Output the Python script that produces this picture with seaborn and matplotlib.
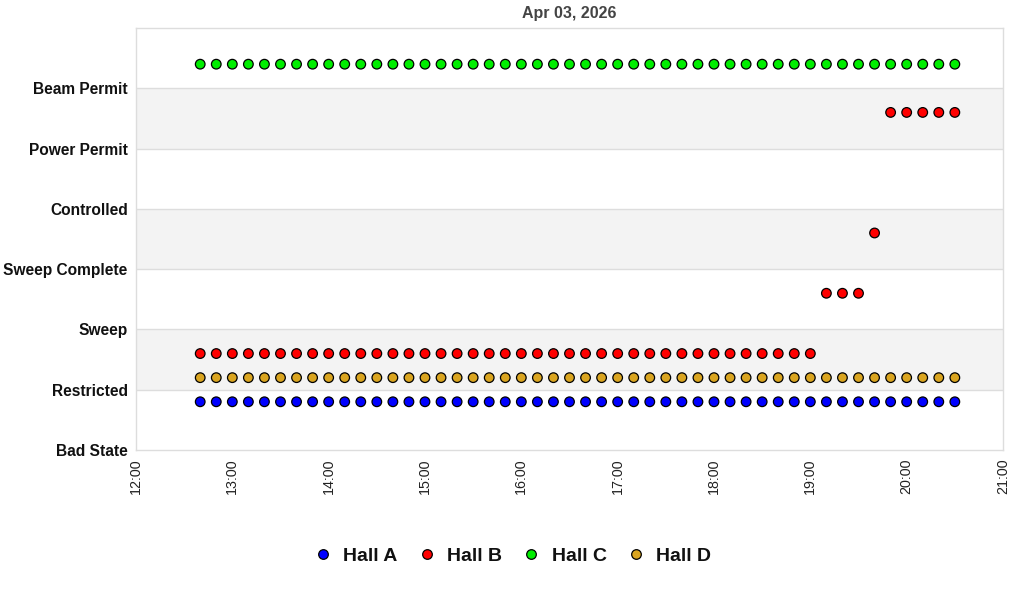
import seaborn as sns
import matplotlib.pyplot as plt
import matplotlib.dates as mdates
import pandas as pd
import numpy as np

# states (bottom to top)
states = ["Bad State", "Restricted", "Sweep", "Sweep Complete",
          "Controlled", "Power Permit", "Beam Permit"]

# sample times every 10 min, 12:40 .. 20:30
times = pd.date_range("2026-04-03 12:40", "2026-04-03 20:30", freq="10min")

halls = ["Hall A", "Hall B", "Hall C", "Hall D"]
colors = ["#0000ff", "#ff0000", "#00ee00", "#daa520"]

hall_a = [0.8] * 48
hall_b = [1.6] * 39 + [2.6, 2.6, 2.6] + [3.6] + [5.6] * 5
hall_c = [6.4] * 48
hall_d = [1.2] * 48

frames = []
for name, vals in zip(halls, [hall_a, hall_b, hall_c, hall_d]):
    frames.append(pd.DataFrame({"time": times, "state": vals, "hall": name}))
data = pd.concat(frames, ignore_index=True)

sns.set_style("white")
plt.rcParams["font.family"] = ["Liberation Sans", "DejaVu Sans"]

fig = plt.figure(figsize=(10.24, 6), dpi=100)
ax = fig.add_axes([0.1328, 0.25, 0.9795 - 0.1328, 0.9533 - 0.25])

# alternating bands
for lo in (1, 3, 5):
    ax.axhspan(lo, lo + 1, color="#f3f3f3", zorder=0, lw=0)
for y in range(1, 7):
    ax.axhline(y, color="#dddddd", lw=1, zorder=0.5)

sns.scatterplot(data=data, x="time", y="state", hue="hall", hue_order=halls,
                palette=colors, s=48, edgecolor="black", linewidth=0.9,
                marker="o", ax=ax, zorder=3, legend=True)

ax.set_ylim(0, 7)
ax.set_yticks(range(7))
ax.set_yticklabels(states, fontsize=11.2, fontweight="bold", color="#111111")
ax.set_xlim(pd.Timestamp("2026-04-03 12:00"), pd.Timestamp("2026-04-03 21:00"))
ax.xaxis.set_major_locator(mdates.HourLocator())
ax.xaxis.set_major_formatter(mdates.DateFormatter("%H:%M"))
plt.setp(ax.get_xticklabels(), rotation=90, fontsize=10.3, color="#222222")
ax.tick_params(axis="both", length=0, pad=6)
ax.set_xlabel("")
ax.set_ylabel("")
for sp in ax.spines.values():
    sp.set_color("#dddddd")
    sp.set_linewidth(1)
ax.set_title("Apr 03, 2026", fontsize=11.5, fontweight="bold", color="#444444", pad=7)

handles, labels = ax.get_legend_handles_labels()
ax.get_legend().remove()
leg = fig.legend(handles, labels, loc="center", bbox_to_anchor=(0.5, 1 - 556 / 600),
                 ncol=4, frameon=False, fontsize=14, handlelength=1.0,
                 handletextpad=0.55, columnspacing=1.0, markerscale=1.0)
for t in leg.get_texts():
    t.set_fontweight("bold")
    t.set_color("#111111")

fig.savefig("out.png", dpi=100)
